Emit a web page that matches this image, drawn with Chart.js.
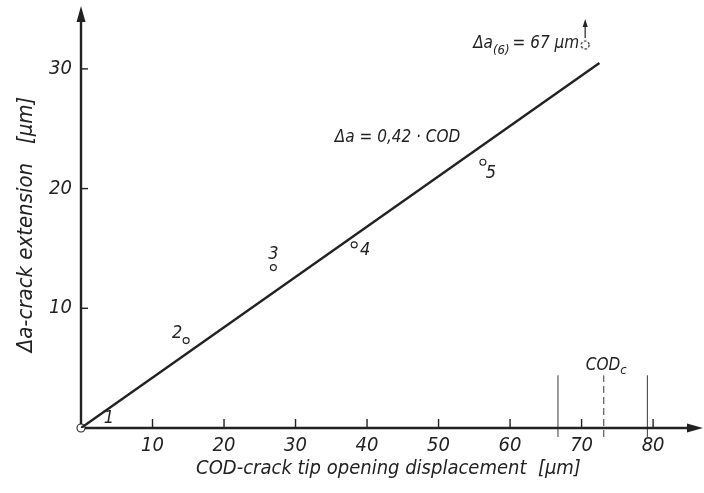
<!DOCTYPE html>
<html>
<head>
<meta charset="utf-8">
<script src="https://cdn.jsdelivr.net/npm/chart.js@4/dist/chart.umd.min.js"></script>
<style>
  html, body { margin: 0; padding: 0; background: #fff; }
  canvas { display: block; }
</style>
</head>
<body>
<canvas id="crackChart" width="704" height="493"></canvas>
<script>
// measured points (COD in µm, crack extension in µm)
const codValues = [0, 14.7, 26.9, 38.2, 56.2];
const crackValues = [0, 7.3, 13.4, 15.3, 22.2];
const pointNames = ['1', '2', '3', '4', '5'];
// point 6 lies off scale (67 µm), drawn at the top with an arrow
const cod6 = [70.5];
const crack6 = [32.0];
// fitted line  Δa = 0,42 · COD
const fitCod = [0, 72.5];
const fitCrack = [0, 30.5];
// vertical marks near the critical COD
const codLimits = [66.7, 79.2];
const codCritical = [73.1];
const markSpan = [-0.75, 4.4];
const xTicks = [10, 20, 30, 40, 50, 60, 70, 80];
const yTicks = [10, 20, 30];

const ink = '#222';
const family = "'DejaVu Sans Condensed', 'DejaVu Sans', sans-serif";

function pts(xs, ys) {
    return xs.map(function (v, i) { return { x: v, y: ys[i] }; });
}

// dashed circle used as point style for point 6
const dashedDot = document.createElement('canvas');
dashedDot.width = 12; dashedDot.height = 12;
(function () {
    const c = dashedDot.getContext('2d');
    c.strokeStyle = ink; c.lineWidth = 1.2;
    c.setLineDash([2.5, 1.8]);
    c.beginPath(); c.arc(6, 6, 4, 0, Math.PI * 2); c.stroke();
})();

const labelOffsets = [[28, -10], [-9, -7], [0, -13], [11, 5], [8, 11]];

const axesPlugin = {
    id: 'axesPlugin',
    beforeDatasetsDraw(chart) {
        const { ctx } = chart;
        const x = chart.scales.x, y = chart.scales.y;
        const x0 = x.getPixelForValue(0), y0 = y.getPixelForValue(0);
        ctx.save();
        ctx.strokeStyle = ink; ctx.fillStyle = ink;
        ctx.lineWidth = 2.4;
        // x axis with arrow
        ctx.beginPath(); ctx.moveTo(x0 - 1, y0); ctx.lineTo(692, y0); ctx.stroke();
        ctx.beginPath(); ctx.moveTo(703, y0); ctx.lineTo(687, y0 - 4.5); ctx.lineTo(687, y0 + 4.5); ctx.closePath(); ctx.fill();
        // y axis with arrow
        ctx.beginPath(); ctx.moveTo(x0, y0 + 1); ctx.lineTo(x0, 18); ctx.stroke();
        ctx.beginPath(); ctx.moveTo(x0, 6); ctx.lineTo(x0 - 4.5, 22); ctx.lineTo(x0 + 4.5, 22); ctx.closePath(); ctx.fill();
        // inward tick marks
        ctx.lineWidth = 1.4;
        xTicks.forEach(function (v) {
            const px = x.getPixelForValue(v);
            ctx.beginPath(); ctx.moveTo(px, y0); ctx.lineTo(px, y0 - 9); ctx.stroke();
        });
        yTicks.forEach(function (v) {
            const py = y.getPixelForValue(v);
            ctx.beginPath(); ctx.moveTo(x0, py); ctx.lineTo(x0 + 7, py); ctx.stroke();
        });
        ctx.restore();
    },
    afterDatasetsDraw(chart) {
        const { ctx } = chart;
        const x = chart.scales.x, y = chart.scales.y;
        ctx.save();
        ctx.fillStyle = ink; ctx.strokeStyle = ink;
        ctx.textAlign = 'center'; ctx.textBaseline = 'middle';
        ctx.font = 'italic 18px ' + family;
        // point numbers
        codValues.forEach(function (v, i) {
            const px = x.getPixelForValue(v) + labelOffsets[i][0];
            const py = y.getPixelForValue(crackValues[i]) + labelOffsets[i][1];
            ctx.fillText(pointNames[i], px, py);
        });
        // fit equation
        ctx.textAlign = 'left';
        ctx.font = 'italic 17px ' + family;
        ctx.fillText('Δa = 0,42 · COD', x.getPixelForValue(35.5), y.getPixelForValue(24.3));

        // Δa(6) = 67 µm label with upward arrow
        const p6x = x.getPixelForValue(cod6[0]), p6y = y.getPixelForValue(crack6[0]);
        ctx.beginPath(); ctx.lineWidth = 1.2;
        ctx.moveTo(p6x, p6y - 7); ctx.lineTo(p6x, p6y - 20); ctx.stroke();
        ctx.beginPath(); ctx.moveTo(p6x, p6y - 26); ctx.lineTo(p6x - 2.5, p6y - 18); ctx.lineTo(p6x + 2.5, p6y - 18); ctx.closePath(); ctx.fill();
        const partA = 'Δa', partSub = '(6)', partB = '= 67 µm';
        ctx.font = 'italic 17px ' + family;
        const wA = ctx.measureText(partA).width, wB = ctx.measureText(partB).width;
        ctx.font = 'italic 13px ' + family;
        const wS = ctx.measureText(partSub).width;
        let sx = p6x - 6 - (wA + wS + wB + 3);
        ctx.font = 'italic 17px ' + family;
        ctx.fillText(partA, sx, p6y - 1); sx += wA;
        ctx.font = 'italic 13px ' + family;
        ctx.fillText(partSub, sx, p6y + 6); sx += wS + 3;
        ctx.font = 'italic 17px ' + family;
        ctx.fillText(partB, sx, p6y - 1);

        // COD_c label
        const cx = x.getPixelForValue(codCritical[0]);
        const cy = y.getPixelForValue(markSpan[1]) - 10;
        const wC = ctx.measureText('COD').width;
        ctx.fillText('COD', cx - 18, cy);
        ctx.font = 'italic 13px ' + family;
        ctx.fillText('c', cx - 18 + wC, cy + 5);
        ctx.restore();
    }
};

new Chart(document.getElementById('crackChart').getContext('2d'), {
    type: 'scatter',
    data: {
        datasets: [
            {
                type: 'line', data: pts(fitCod, fitCrack),
                borderColor: ink, borderWidth: 2.4, pointRadius: 0, showLine: true
            },
            {
                data: pts(codValues, crackValues),
                pointRadius: [4, 3, 3, 3, 3], pointBorderWidth: 1.1,
                pointBackgroundColor: '#fff', pointBorderColor: ink, clip: false
            },
            {
                data: pts(cod6, crack6), pointStyle: dashedDot, clip: false
            },
            {
                type: 'line', data: pts([codLimits[0], codLimits[0]], markSpan),
                borderColor: ink, borderWidth: 0.9, pointRadius: 0, clip: false
            },
            {
                type: 'line', data: pts([codLimits[1], codLimits[1]], markSpan),
                borderColor: ink, borderWidth: 0.9, pointRadius: 0, clip: false
            },
            {
                type: 'line', data: pts([codCritical[0], codCritical[0]], markSpan),
                borderColor: ink, borderWidth: 0.9, borderDash: [7, 4], pointRadius: 0, clip: false
            }
        ]
    },
    options: {
        responsive: false,
        animation: false,
        layout: { padding: { top: 13, right: 8, left: 0, bottom: 0 } },
        plugins: { legend: { display: false }, tooltip: { enabled: false } },
        scales: {
            x: {
                type: 'linear', min: 0, max: 86,
                grid: { display: false, drawTicks: false }, border: { display: false },
                ticks: {
                    stepSize: 10, includeBounds: false, autoSkip: false, maxRotation: 0, padding: 6,
                    color: ink, font: { family: family, size: 20, style: 'italic' },
                    callback: function (v) { return xTicks.indexOf(v) >= 0 ? v : ''; }
                },
                title: {
                    display: true, text: 'COD-crack tip opening displacement  [µm]', color: ink,
                    font: { family: family, size: 20, style: 'italic' }, padding: { top: 0, bottom: 12 }
                },
                afterFit: function (s) { s.height = 65; }
            },
            y: {
                type: 'linear', min: 0, max: 34,
                grid: { display: false, drawTicks: false }, border: { display: false },
                ticks: {
                    stepSize: 10, includeBounds: false, autoSkip: false, padding: 9,
                    color: ink, font: { family: family, size: 20, style: 'italic' },
                    callback: function (v) { return yTicks.indexOf(v) >= 0 ? v : ''; }
                },
                title: {
                    display: true, text: 'Δa-crack extension   [µm]', color: ink,
                    font: { family: family, size: 22, style: 'italic' }, padding: { top: 13, bottom: 0 }
                },
                afterFit: function (s) { s.width = 81; }
            }
        }
    },
    plugins: [axesPlugin]
});
</script>
</body>
</html>
